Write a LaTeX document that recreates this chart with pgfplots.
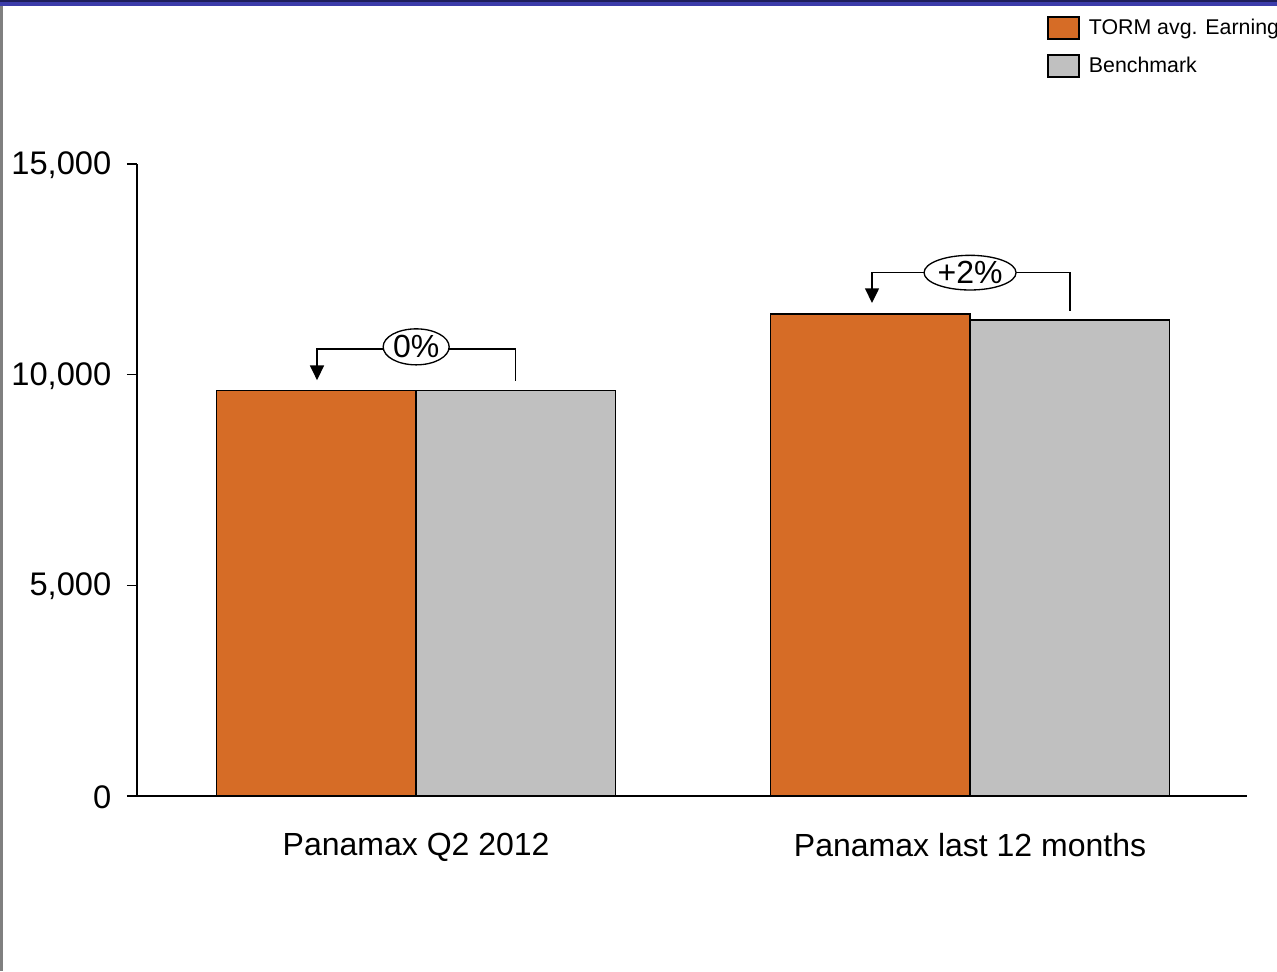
\documentclass[border=0pt]{standalone}
\usepackage{fontspec}
\setmainfont{Liberation Sans}
\usepackage{pgfplots}
\pgfplotsset{compat=1.18}
\usetikzlibrary{arrows.meta,shapes.geometric}
\definecolor{tormorange}{RGB}{214,108,38}
\definecolor{benchgray}{RGB}{192,192,192}
\definecolor{navyband}{RGB}{30,30,90}
\definecolor{bandblue}{RGB}{60,60,170}
\definecolor{framegray}{RGB}{128,128,128}

\begin{document}
\begin{tikzpicture}[x=1pt,y=1pt]
\useasboundingbox (0,0) rectangle (957.75,728.25);
% page frame: blue band on top, grey rule on the left
\fill[bandblue] (0,723.75) rectangle (957.75,728.25);
\fill[navyband] (0,726.75) rectangle (957.75,728.25);
\fill[framegray] (0,0) rectangle (2.5,723.75);
\begin{axis}[
  at={(102.75pt,131.25pt)}, anchor=south west,
  scale only axis, width=832.5pt, height=474pt,
  xmin=-0.504, xmax=1.5, ymin=0, ymax=15000,
  clip=false,
  axis x line=bottom, axis y line=left,
  axis line style={line width=1.2pt, -},
  xtick={0,1},
  xticklabels={Panamax Q2 2012, Panamax last 12 months},
  xtick style={draw=none},
  ytick={0,5000,10000,15000},
  scaled y ticks=false,
  ytick style={line width=1.2pt, black},
  tick align=outside, major tick length=7.5pt,
  /pgf/number format/assume math mode=true,
  /pgf/number format/fixed,
  /pgf/number format/1000 sep={,},
  yticklabel style={font=\fontsize{24.5}{29}\selectfont, xshift=-8.25pt, yshift=-1pt},
  xticklabel style={font=\fontsize{24}{28}\selectfont, yshift=-17pt},
  ybar, bar width=0.36,
  legend style={at={(0.8198,1.2342)}, anchor=north west, draw=none, fill=none,
    font=\fontsize{16}{19}\selectfont, row sep=11pt, column sep=5pt, inner sep=0pt,
    legend cell align=left},
  legend image code/.code={\draw[#1, line width=1pt] (0pt,-8.25pt) rectangle (23.25pt,8.25pt);},
]
\addplot[bar shift=-0.18, fill=tormorange, draw=black, line width=1pt]
  coordinates {(0,9630) (1,11440)};
\addplot[bar shift=0.18, fill=benchgray, draw=black, line width=1pt]
  coordinates {(0,9630) (1,11300)};
\legend{TORM avg. Earning, Benchmark}

% difference brackets
\draw[line width=1.1pt, -{Triangle[width=10.5pt,length=11pt]}]
  (axis cs:0.179,9850) |- (axis cs:-0.179,10610) -- (axis cs:-0.179,9870);
\node[ellipse, draw, fill=white, line width=1pt, minimum width=49.5pt,
  minimum height=27pt, inner sep=0pt, font=\fontsize{24}{28}\selectfont]
  at (axis cs:0,10660) {0\%};
\draw[line width=1.1pt, -{Triangle[width=10.5pt,length=11pt]}]
  (axis cs:1.18,11512) |- (axis cs:0.823,12421) -- (axis cs:0.823,11702);
\node[ellipse, draw, fill=white, line width=1pt, minimum width=69pt,
  minimum height=26pt, inner sep=0pt, font=\fontsize{24}{28}\selectfont]
  at (axis cs:1,12421) {+2\%};
\end{axis}
\end{tikzpicture}
\end{document}
